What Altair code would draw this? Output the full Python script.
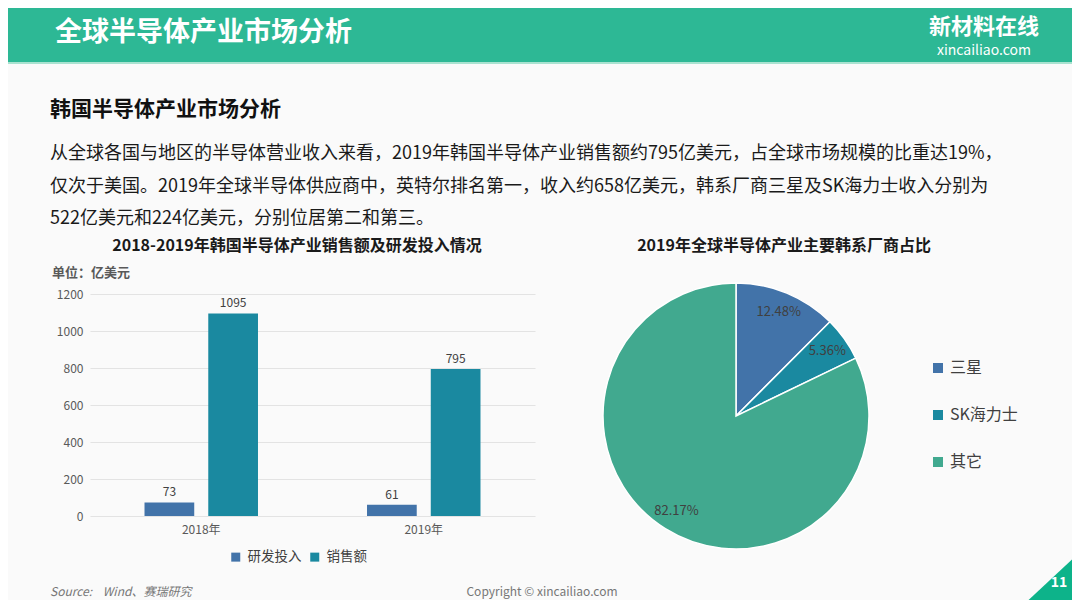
import altair as alt
import pandas as pd

# ---------------- data ----------------
years = ["2018年", "2019年"]
series = ["研发投入", "销售额"]
rd_values = [73, 61]
sales_values = [1095, 795]
y_ticks = [0, 200, 400, 600, 800, 1000, 1200]

companies = ["三星", "SK海力士", "其它"]
shares = [12.48, 5.36, 82.17]

header_title = "全球半导体产业市场分析"
logo_cn = "新材料在线"
logo_en = "xincailiao.com"
subtitle = "韩国半导体产业市场分析"
paragraph = [
    "从全球各国与地区的半导体营业收入来看，2019年韩国半导体产业销售额约795亿美元，占全球市场规模的比重达19%，",
    "仅次于美国。2019年全球半导体供应商中，英特尔排名第一，收入约658亿美元，韩系厂商三星及SK海力士收入分别为",
    "522亿美元和224亿美元，分别位居第二和第三。",
]
bar_title = "2018-2019年韩国半导体产业销售额及研发投入情况"
unit_label = "单位：亿美元"
pie_title = "2019年全球半导体产业主要韩系厂商占比"
source_text = "Source:\u00a0\u00a0\u00a0\u00a0Wind、赛瑞研究"
copyright_text = "Copyright © xincailiao.com"
page_no = "11"

# ---------------- tables ----------------
bar_rows = []
for i, yr in enumerate(years):
    bar_rows.append({"year": yr, "series": series[0], "value": rd_values[i]})
    bar_rows.append({"year": yr, "series": series[1], "value": sales_values[i]})
bar_df = pd.DataFrame(bar_rows)

pie_df = pd.DataFrame({
    "company": companies,
    "share": shares,
    "idx": list(range(len(companies))),
    "label": [f"{s:.2f}%" for s in shares],
})

FONT = "Noto Sans CJK SC"
W, H = 1064, 592
BAR_COLORS = ["#4273a9", "#1a89a0"]
PIE_COLORS = ["#4273a9", "#1a89a0", "#41a98f"]


def text_layer(txt, x, y, size, color, weight="normal", align="left",
               style="normal", baseline="middle"):
    return alt.Chart(pd.DataFrame({"t": [txt]})).mark_text(
        align=align, baseline=baseline, fontSize=size, fontWeight=weight,
        color=color, font=FONT, fontStyle=style
    ).encode(text="t:N", x=alt.value(x), y=alt.value(y))


one = pd.DataFrame({"a": [0]})

header = alt.Chart(one).mark_rect(color="#2db895").encode(
    x=alt.value(0), x2=alt.value(W), y=alt.value(0), y2=alt.value(54))
header_line = alt.Chart(one).mark_rect(color="#a9e2d0").encode(
    x=alt.value(0), x2=alt.value(W), y=alt.value(54), y2=alt.value(56))

triangle = alt.Chart(one).mark_point(
    shape="M -1 0.933 L 1 -0.933 L 1 0.933 Z", filled=True, size=3600,
    color="#0db38a", opacity=1, strokeWidth=0
).encode(x=alt.value(1042), y=alt.value(572))

texts = [
    text_layer(header_title, 47, 25, 27, "white", weight="bold"),
    text_layer(logo_cn, 976, 19, 22, "white", weight="bold", align="center"),
    text_layer(logo_en, 976, 43, 14, "white", align="center"),
    text_layer(subtitle, 42, 102, 21, "#111111", weight="bold"),
    text_layer(bar_title, 289, 238, 16, "#1a1a1a", weight="bold", align="center"),
    text_layer(unit_label, 44, 265, 13, "#595959", weight="bold"),
    text_layer(pie_title, 776, 238, 16, "#1a1a1a", weight="bold", align="center"),
    text_layer(source_text, 42, 584, 12, "#777777", style="italic"),
    text_layer(copyright_text, 534, 584, 12, "#777777", align="center"),
    text_layer(page_no, 1051, 575, 14, "white", weight="bold", align="center"),
]
for i, line in enumerate(paragraph):
    texts.append(text_layer(line, 42, 146 + i * 32.5, 18, "#1a1a1a"))

# ---------------- bar chart ----------------
x_enc = alt.X(
    "year:N", sort=years,
    scale=alt.Scale(range=[82, 527], paddingInner=0.49, paddingOuter=0.245),
    axis=alt.Axis(title=None, labelAngle=0, domain=False, ticks=False,
                  labelPadding=8, offset=-84, labelFontSize=12,
                  labelColor="#595959", labelFont=FONT),
)
xoff_enc = alt.XOffset("series:N", sort=series,
                       scale=alt.Scale(paddingInner=0.22, paddingOuter=0))
y_enc = alt.Y(
    "value:Q",
    scale=alt.Scale(domain=[0, 1200], range=[508, 286], nice=False),
    axis=alt.Axis(values=y_ticks, format="d", title=None, domain=False,
                  ticks=False, grid=True, gridColor="#e3e3e3", labelPadding=7,
                  offset=-82, labelFontSize=12, labelColor="#595959",
                  labelFont=FONT),
)

bars = alt.Chart(bar_df).mark_bar().encode(
    x=x_enc, xOffset=xoff_enc, y=y_enc,
    color=alt.Color(
        "series:N", sort=series,
        scale=alt.Scale(domain=series, range=BAR_COLORS),
        legend=alt.Legend(orient="none", legendX=221, legendY=542,
                          direction="horizontal", title=None,
                          symbolType="square", symbolSize=81,
                          symbolStrokeWidth=0, labelFontSize=13.5,
                          labelColor="#404040", labelFont=FONT,
                          columnPadding=6, labelOffset=5, padding=0),
    ),
)
bar_labels = alt.Chart(bar_df).mark_text(
    baseline="bottom", dy=-3, fontSize=12, color="#404040", font=FONT
).encode(x=x_enc, xOffset=xoff_enc, y=y_enc, text="value:Q")

# ---------------- pie chart ----------------
CX, CY = 728, 408
theta_enc = alt.Theta("share:Q", stack=True)
arcs = alt.Chart(pie_df).mark_arc(
    outerRadius=133, stroke="white", strokeWidth=1.5
).encode(
    theta=theta_enc,
    order=alt.Order("idx:Q", sort="ascending"),
    color=alt.Color(
        "company:N", sort=companies,
        scale=alt.Scale(domain=companies, range=PIE_COLORS),
        legend=alt.Legend(orient="none", legendX=922, legendY=352,
                          direction="vertical", title=None,
                          symbolType="square", symbolSize=100,
                          symbolStrokeWidth=0, labelFontSize=16,
                          labelColor="#404040", labelFont=FONT,
                          rowPadding=31, labelOffset=4, padding=0),
    ),
    x=alt.value(CX), y=alt.value(CY),
)
arc_labels = alt.Chart(pie_df).mark_text(
    radius=112, fontSize=13, color="#404040", font=FONT
).encode(
    theta=theta_enc,
    order=alt.Order("idx:Q", sort="ascending"),
    text="label:N",
    x=alt.value(CX), y=alt.value(CY),
)

chart = alt.layer(
    header, header_line, triangle, *texts, bars, bar_labels, arcs, arc_labels
).resolve_scale(color="independent").properties(
    width=W, height=H, autosize=alt.AutoSizeParams(type="none"),
    padding=0, background="#fafafa"
).configure_view(stroke=None)

chart.save("out.html", embed_options={"renderer": "svg", "actions": False})
